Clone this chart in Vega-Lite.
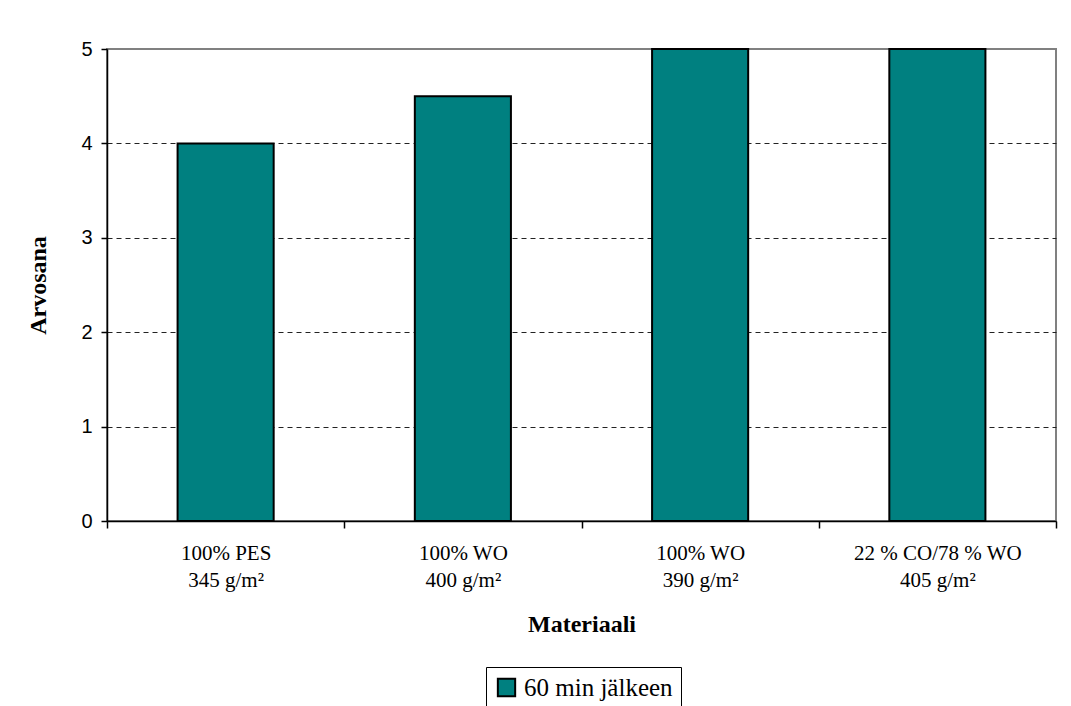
{
  "$schema": "https://vega.github.io/schema/vega-lite/v6.json",
  "autosize": "none",
  "width": 949,
  "height": 472,
  "padding": {"left": 107, "top": 49, "right": 15, "bottom": 185},
  "background": "white",
  "data": {
    "values": [
      {"material": "100% PES\u00a0\u00a0\u00a0|345 g/m²", "arvosana": 4, "series": "60 min jälkeen"},
      {"material": "100% WO\u00a0\u00a0|400 g/m²", "arvosana": 4.5, "series": "60 min jälkeen"},
      {"material": "100% WO\u00a0\u00a0\u00a0|390 g/m²", "arvosana": 5, "series": "60 min jälkeen"},
      {"material": "22 % CO/78 % WO\u00a0\u00a0\u00a0\u00a0\u00a0\u00a0\u00a0\u00a0\u00a0|405 g/m²", "arvosana": 5, "series": "60 min jälkeen"}
    ]
  },
  "mark": {"type": "bar", "width": {"band": 0.405}, "stroke": "black", "strokeWidth": 2},
  "encoding": {
    "x": {
      "field": "material",
      "type": "nominal",
      "sort": null,
      "scale": {"paddingInner": 0, "paddingOuter": 0},
      "axis": {
        "title": "Materiaali",
        "titleFont": "Liberation Serif",
        "titleFontSize": 24,
        "titleFontWeight": "bold",
        "titleColor": "black",
        "titlePadding": 22,
        "labelExpr": "split(datum.label, '|')",
        "labelFont": "Liberation Serif",
        "labelFontSize": 21,
        "labelColor": "black",
        "labelAngle": 0,
        "labelPadding": 14,
        "labelLineHeight": 27,
        "tickBand": "extent",
        "tickSize": 7,
        "tickColor": "black",
        "tickWidth": 1.5,
        "domainColor": "black",
        "domainWidth": 1.5
      }
    },
    "y": {
      "field": "arvosana",
      "type": "quantitative",
      "scale": {"domain": [0, 5], "nice": false},
      "axis": {
        "title": "Arvosana",
        "titleFont": "Liberation Serif",
        "titleFontSize": 24,
        "titleFontWeight": "bold",
        "titleColor": "black",
        "titlePadding": 30,
        "values": [0, 1, 2, 3, 4, 5],
        "labelFont": "Liberation Sans",
        "labelFontSize": 20,
        "labelColor": "black",
        "labelPadding": 9,
        "tickSize": 6,
        "tickColor": "black",
        "tickWidth": 1.5,
        "domainColor": "black",
        "domainWidth": 1.5,
        "grid": true,
        "gridColor": "#222222",
        "gridDash": [5, 4],
        "gridWidth": 1,
        "gridOpacity": {"condition": {"test": "datum.value == 0 || datum.value == 5", "value": 0}, "value": 1}
      }
    },
    "color": {
      "field": "series",
      "type": "nominal",
      "scale": {"range": ["#008080"]},
      "legend": {
        "title": null,
        "orient": "none",
        "legendX": 379,
        "legendY": 618,
        "strokeColor": "black",
        "padding": 8,
        "symbolType": "square",
        "symbolSize": 300,
        "symbolStrokeColor": "black",
        "symbolStrokeWidth": 2,
        "symbolOpacity": 1,
        "labelFont": "Liberation Serif",
        "labelFontSize": 25,
        "labelColor": "black",
        "labelOffset": 5
      }
    }
  },
  "config": {
    "view": {"stroke": "#808080", "strokeWidth": 2}
  }
}
